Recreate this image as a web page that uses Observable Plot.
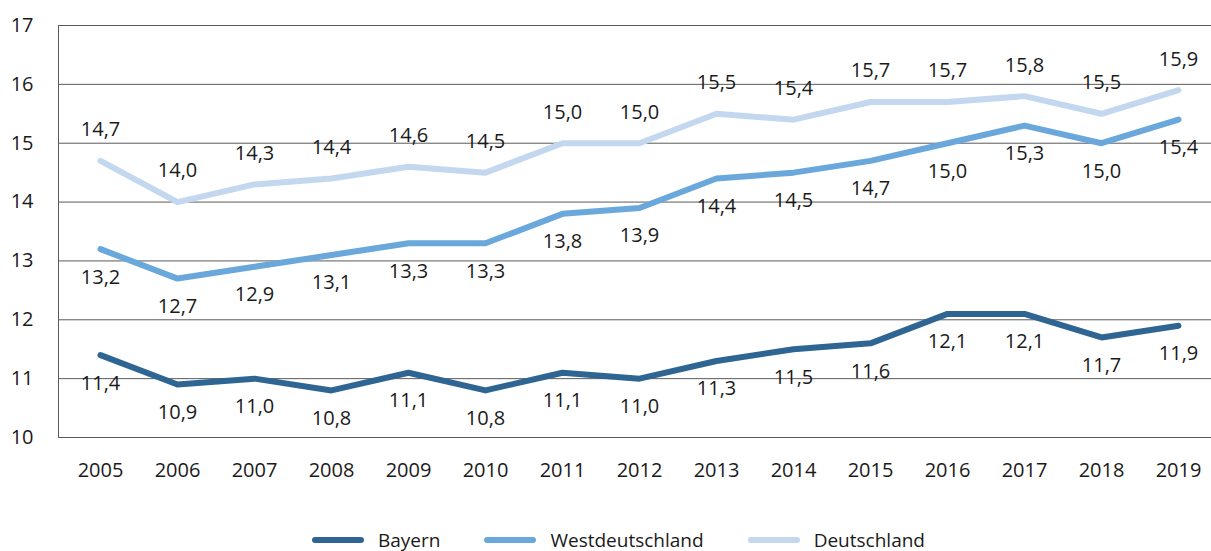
<!DOCTYPE html>
<html>
<head>
<meta charset="utf-8">
<script src="https://cdn.jsdelivr.net/npm/d3@7"></script>
<script src="https://cdn.jsdelivr.net/npm/@observablehq/plot@0.6"></script>
<style>
  html, body { margin: 0; padding: 0; background: #fff; }
  body { width: 1211px; height: 551px; overflow: hidden; font-family: "Open Sans", sans-serif; }
  #chart svg { display: block; }
  #legend { display: flex; align-items: center; height: 22px; margin-top: 39px; padding-left: 310px; font-size: 19px; line-height: 19px; color: #1a1a1a; }
  #legend .item { display: flex; align-items: center; margin-right: 42px; }
  #legend svg { margin-right: 12px; }
</style>
</head>
<body>
<div id="chart"></div>
<div id="legend"></div>
<script>
const years = ["2005","2006","2007","2008","2009","2010","2011","2012","2013","2014","2015","2016","2017","2018","2019"];
const bayern = [11.4, 10.9, 11.0, 10.8, 11.1, 10.8, 11.1, 11.0, 11.3, 11.5, 11.6, 12.1, 12.1, 11.7, 11.9];
const westdeutschland = [13.2, 12.7, 12.9, 13.1, 13.3, 13.3, 13.8, 13.9, 14.4, 14.5, 14.7, 15.0, 15.3, 15.0, 15.4];
const deutschland = [14.7, 14.0, 14.3, 14.4, 14.6, 14.5, 15.0, 15.0, 15.5, 15.4, 15.7, 15.7, 15.8, 15.5, 15.9];
const yTicks = [10, 11, 12, 13, 14, 15, 16, 17];
const seriesNames = ["Bayern", "Westdeutschland", "Deutschland"];
const seriesColors = ["#2f6592", "#6aa8db", "#c3d7ef"];

const seriesValues = [bayern, westdeutschland, deutschland];
const rows = seriesNames.flatMap((s, i) => years.map((y, j) => ({series: s, year: y, value: seriesValues[i][j]})));
const fmt = v => v.toFixed(1).replace(".", ",");
const labelDy = {"Bayern": 28, "Westdeutschland": 28, "Deutschland": -31};

// left axis line drawn with the y scale
const leftAxisLine = (index, scales, values, dimensions) => {
  const g = d3.create("svg:g");
  g.append("line")
    .attr("x1", dimensions.marginLeft + 0.5).attr("x2", dimensions.marginLeft + 0.5)
    .attr("y1", scales.y(17)).attr("y2", scales.y(10))
    .attr("stroke", "#5a5a5a").attr("stroke-width", 1);
  return g.node();
};

const plot = Plot.plot({
  width: 1211,
  height: 490,
  marginLeft: 58,
  marginRight: 0,
  marginTop: 25,
  marginBottom: 53,
  style: {fontFamily: "Open Sans, sans-serif", fontSize: "20px", color: "#1a1a1a", overflow: "visible"},
  x: {type: "point", domain: years, range: [96, 1182], padding: 0, label: null},
  y: {domain: [10, 17], label: null},
  color: {domain: seriesNames, range: seriesColors},
  marks: [
    Plot.ruleY(yTicks, {stroke: "#5a5a5a", strokeWidth: 1}),
    leftAxisLine,
    Plot.axisX({tickSize: 0, tickPadding: 25, fontSize: 20}),
    Plot.axisY({ticks: yTicks, tickSize: 0, tickPadding: 25, fontSize: 20, tickFormat: d => String(d)}),
    Plot.line(rows, {x: "year", y: "value", z: "series", stroke: "series", strokeWidth: 6, strokeLinecap: "round", strokeLinejoin: "round"}),
    ...seriesNames.map(s => Plot.text(rows.filter(r => r.series === s), {x: "year", y: "value", text: d => fmt(d.value), dy: labelDy[s], fill: "#1a1a1a", fontSize: 20}))
  ]
});
document.getElementById("chart").appendChild(plot);

const legend = document.getElementById("legend");
seriesNames.forEach((s, i) => {
  const item = document.createElement("div");
  item.className = "item";
  item.innerHTML = `<svg width="56" height="10"><line x1="5" y1="5" x2="51" y2="5" stroke="${seriesColors[i]}" stroke-width="6" stroke-linecap="round"/></svg><span>${s}</span>`;
  legend.appendChild(item);
});
</script>
</body>
</html>
